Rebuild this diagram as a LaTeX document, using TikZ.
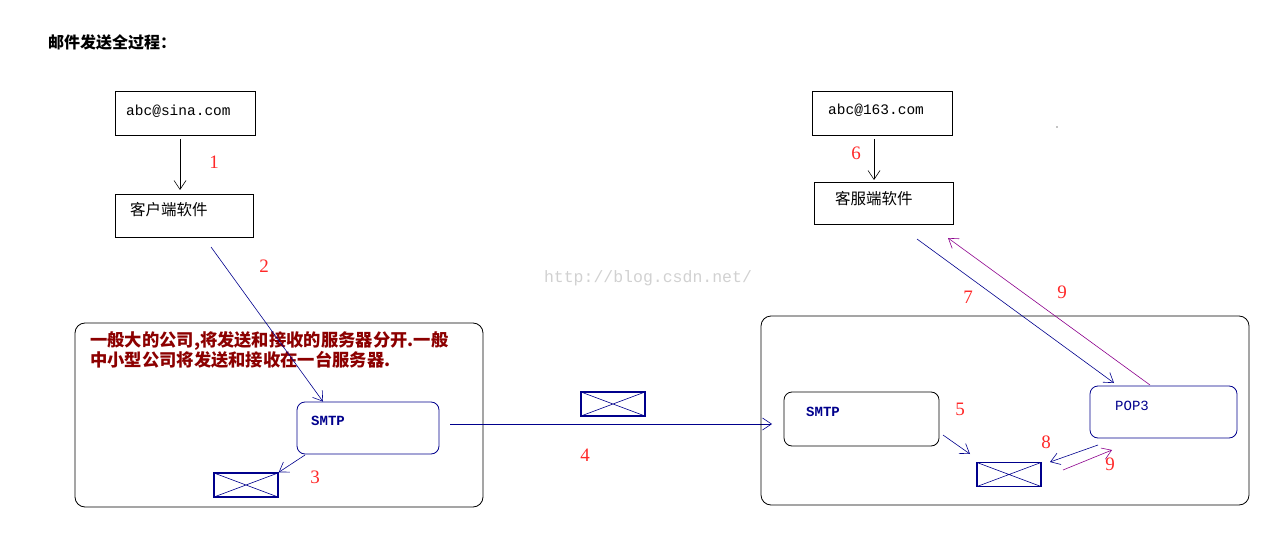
\documentclass[tikz,border=0pt]{standalone}
\usepackage{fontspec}
\setmainfont{Liberation Serif}
\newfontfamily\cjk{Noto Sans CJK SC}
\newfontfamily\mono{Liberation Mono}
\usetikzlibrary{arrows.meta}
\definecolor{navy}{RGB}{0,0,140}
\definecolor{dred}{RGB}{140,0,0}
\definecolor{purp}{RGB}{140,0,140}
\definecolor{nred}{RGB}{255,40,40}
\tikzset{
  box/.style={draw=black,line width=0.8pt,minimum width=140pt,minimum height=44pt,inner sep=0pt},
  rbox/.style={draw=navy,line width=0.8pt,rounded corners=8pt,inner sep=0pt},
  big/.style={draw=black,line width=0.8pt,rounded corners=10pt,inner sep=0pt},
  arr/.style={-{Straight Barb[length=9pt,width=12pt]},line width=0.6pt},
  num/.style={text=nred,font=\fontsize{19}{19}\selectfont,inner sep=0pt},
  env/.style={draw=navy,line width=1.4pt,minimum width=64pt,minimum height=24pt,inner sep=0pt,
    path picture={\draw[navy,line width=0.6pt](path picture bounding box.north west)--(path picture bounding box.south east)
      (path picture bounding box.south west)--(path picture bounding box.north east);}},
  lbl/.style={inner sep=0pt,anchor=west}
}
\begin{document}
\begin{tikzpicture}[x=1pt,y=-1pt]
\useasboundingbox (0,0) rectangle (1276,534);
\node[lbl,font=\cjk\bfseries\fontsize{16}{16}\selectfont] (title) at (48,42) {邮件发送全过程：};
% left
\node[box] (sina) at (185,113) {};
\node[lbl,font=\mono\fontsize{14.5}{14.5}\selectfont] (sinat) at (126,111) {abc@sina.com};
\node[box,minimum width=138pt,minimum height=43pt] (cli) at (184,215.5) {};
\node[lbl,font=\cjk\fontsize{15.5}{15.5}\selectfont] (clit) at (130,210) {客户端软件};
\coordinate (a1s) at (180,139); \coordinate (a1e) at (180,190);
\draw[arr] (a1s) -- (a1e);
\node[num] (n1) at (214,162) {1};
\node[big,minimum width=408pt,minimum height=184pt] (lbig) at (279,415) {};
\node[lbl,text=dred,font=\cjk\bfseries\fontsize{17.3}{17.5}\selectfont,align=left,anchor=north west] (note) at (90,331) {一般大的公司,将发送和接收的服务器分开.一般\\中小型公司将发送和接收在一台服务器.};
\node[rbox,minimum width=142pt,minimum height=52pt] (smtpL) at (368,428) {};
\node[lbl,text=navy,font=\mono\bfseries\fontsize{14}{14}\selectfont] (smtpLt) at (311,421) {SMTP};
\coordinate (a2s) at (211,247);
\draw[arr,navy] (a2s) -- (smtpL.north west -| 323,400);
\node[num] (n2) at (264,266) {2};
\node[env] (envL) at (246,485) {};
\coordinate (a3s) at (305,455);
\draw[arr,navy] (a3s) -- (envL.north east);
\node[num] (n3) at (315,477) {3};
% middle
\node[env] (envM) at (613,404) {};
\coordinate (a4s) at (450,424); \coordinate (a4e) at (772,424);
\draw[arr,navy] (a4s) -- (a4e);
\node[num] (n4) at (585,455) {4};
\node[text=black!18,font=\mono\fontsize{16.5}{16.5}\selectfont,inner sep=0pt] (wm) at (648,278) {http://blog.csdn.net/};
% right
\node[box] (n163) at (882,113) {};
\node[lbl,font=\mono\fontsize{14.5}{14.5}\selectfont] (n163t) at (828,110) {abc@163.com};
\node[box,minimum width=139pt,minimum height=42pt] (srv) at (883.5,203) {};
\node[lbl,font=\cjk\fontsize{15.5}{15.5}\selectfont] (srvt) at (835,199) {客服端软件};
\coordinate (a6s) at (874,139); \coordinate (a6e) at (874,180);
\draw[arr] (a6s) -- (a6e);
\node[num] (n6) at (856,153) {6};
\node[big,minimum width=488pt,minimum height=189pt] (rbig) at (1005,410.5) {};
\node[rbox,draw=black,minimum width=155pt,minimum height=54pt] (smtpR) at (861.5,419) {};
\node[lbl,text=navy,font=\mono\bfseries\fontsize{14}{14}\selectfont] (smtpRt) at (806,412) {SMTP};
\node[rbox,minimum width=147pt,minimum height=52pt] (pop) at (1163.5,412) {};
\node[lbl,text=navy,font=\mono\fontsize{14}{14}\selectfont] (popt) at (1115,406) {POP3};
\node[env] (envR) at (1009,474.5) {};
\coordinate (a5s) at (943,435); \coordinate (a5e) at (970,454);
\draw[arr,navy] (a5s) -- (a5e);
\node[num] (n5) at (960,409) {5};
\coordinate (a8s) at (1098,445); \coordinate (a8e) at (1050,462);
\draw[arr,navy] (a8s) -- (a8e);
\node[num] (n8) at (1046,442) {8};
\coordinate (a9s) at (1063,470); \coordinate (a9e) at (1112,450);
\draw[arr,purp] (a9s) -- (a9e);
\node[num] (n9b) at (1110,464) {9};
\coordinate (a7s) at (917,239); \coordinate (a7e) at (1114,383);
\draw[arr,navy] (a7s) -- (a7e);
\node[num] (n7) at (968,297) {7};
\coordinate (a9bs) at (1150,385); \coordinate (a9be) at (948,238);
\draw[arr,purp] (a9bs) -- (a9be);
\node[num] (n9) at (1062,292) {9};
\fill (1057,127) circle (0.6pt);
\end{tikzpicture}
\end{document}
